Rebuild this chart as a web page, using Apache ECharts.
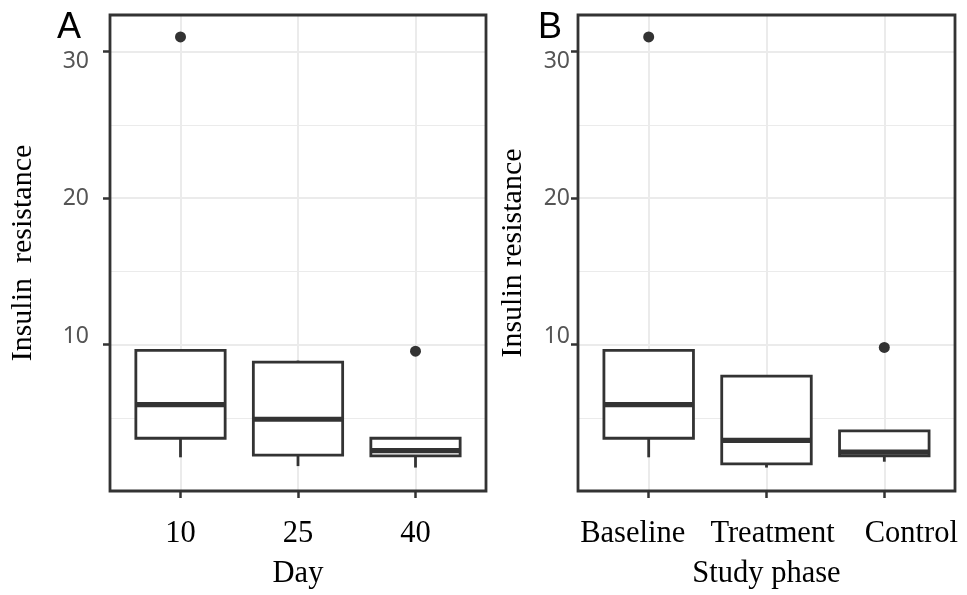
<!DOCTYPE html>
<html>
<head>
<meta charset="utf-8">
<script src="https://cdn.jsdelivr.net/npm/echarts@6/dist/echarts.min.js"></script>
<style>
  html, body { margin: 0; padding: 0; background: #fff; }
  #chart { width: 967px; height: 595px; }
</style>
</head>
<body>
<div id="chart"></div>
<script>
// categories of the two panels
const dayCats = ['10', '25', '40'];
const phaseCats = ['Baseline', 'Treatment', 'Control'];
// box stats: [lower whisker, Q1, median, Q3, upper whisker]
const dayBoxes = [
  [2.3, 3.6, 5.9, 9.6, 9.6],
  [1.7, 2.45, 4.9, 8.8, 8.9],
  [1.6, 2.4, 2.75, 3.6, 3.6]
];
const phaseBoxes = [
  [2.3, 3.6, 5.9, 9.6, 9.6],
  [1.6, 1.85, 3.45, 7.85, 7.9],
  [2.0, 2.4, 2.65, 4.1, 4.1]
];
// outliers: [category position, value]
const dayOutliers = [[1, 31.0], [3, 9.55]];
const phaseOutliers = [[1, 31.0], [3, 9.8]];
const yTicks = [10, 20, 30];
const catTicks = [1, 2, 3];

const INK = '#333333';
const GRIDC = '#ebebeb';
const SERIF = 'Liberation Serif';
const BOX_W = 0.76;

// ggplot style box: no whisker caps, thick median
function renderBox(params, api) {
  const x = api.value(0);
  const lo = api.coord([x, api.value(1)]);
  const q1 = api.coord([x, api.value(2)]);
  const md = api.coord([x, api.value(3)]);
  const q3 = api.coord([x, api.value(4)]);
  const hi = api.coord([x, api.value(5)]);
  const half = api.size([BOX_W, 0])[0] / 2;
  const cx = q1[0];
  return {
    type: 'group',
    children: [
      { type: 'line', shape: { x1: cx, y1: lo[1], x2: cx, y2: q1[1] }, style: { stroke: INK, lineWidth: 2.8 } },
      { type: 'line', shape: { x1: cx, y1: q3[1], x2: cx, y2: hi[1] }, style: { stroke: INK, lineWidth: 2.8 } },
      { type: 'rect', shape: { x: cx - half, y: q3[1], width: half * 2, height: q1[1] - q3[1] },
        style: { fill: '#fff', stroke: INK, lineWidth: 2.8 } },
      { type: 'line', shape: { x1: cx - half, y1: md[1], x2: cx + half, y2: md[1] }, style: { stroke: INK, lineWidth: 5.2 } }
    ]
  };
}

// tick labels sit a bit off their ticks in the reference
const yShift = { 30: 10, 20: 0, 10: -8.5 };
function yRich() {
  const r = {};
  yTicks.forEach(t => {
    const s = yShift[t];
    r['t' + t] = { padding: s >= 0 ? [2 * s, 0, 0, 0] : [0, 0, -2 * s, 0] };
  });
  return r;
}

function xAxisFor(gi, cats, name, shifts) {
  const rich = {};
  cats.forEach((c, i) => {
    const s = shifts[i];
    rich['c' + i] = { padding: s >= 0 ? [0, 0, 0, 2 * s] : [0, -2 * s, 0, 0] };
  });
  return {
    type: 'value', gridIndex: gi, min: 0.4, max: 3.6, position: 'bottom',
    axisLine: { show: false },
    axisTick: { show: true, customValues: catTicks, length: 7, lineStyle: { color: INK, width: 2.5 } },
    axisLabel: {
      customValues: catTicks, margin: 27,
      color: '#000', fontFamily: SERIF, fontSize: 30.5,
      formatter: v => '{c' + (v - 1) + '|' + cats[v - 1] + '}',
      rich: rich
    },
    splitLine: { show: true, lineStyle: { color: GRIDC, width: 2 } },
    name: name, nameLocation: 'middle', nameGap: 67,
    nameTextStyle: { color: '#000', fontFamily: SERIF, fontSize: 30.5 }
  };
}

function yAxesFor(gi, name, labelMargin, nameGap) {
  return [
    {
      // minor grid lines
      type: 'value', gridIndex: gi, min: 0, max: 32.5, interval: 5, position: 'left',
      axisLine: { show: false }, axisTick: { show: false }, axisLabel: { show: false },
      splitLine: { show: true, lineStyle: { color: GRIDC, width: 1.2 } }
    },
    {
      type: 'value', gridIndex: gi, min: 0, max: 32.5, interval: 10, position: 'left',
      axisLine: { show: false },
      axisTick: { show: true, customValues: yTicks, length: 7, lineStyle: { color: INK, width: 2.5 } },
      axisLabel: {
        customValues: yTicks, margin: labelMargin,
        color: '#555', fontFamily: 'Noto Sans', fontSize: 23,
        formatter: v => '{t' + v + '|' + v + '}',
        rich: yRich()
      },
      splitLine: { show: true, lineStyle: { color: GRIDC, width: 2 } },
      name: name, nameLocation: 'middle', nameGap: nameGap, nameRotate: 90,
      nameTextStyle: { color: '#000', fontFamily: SERIF, fontSize: 30 }
    }
  ];
}

const chart = echarts.init(document.getElementById('chart'), null, { renderer: 'canvas' });

const option = {
  animation: false,
  backgroundColor: '#fff',
  title: [
    { text: 'A', left: 52, top: 5, textStyle: { fontFamily: 'Liberation Sans', fontSize: 36, fontWeight: 'normal', color: '#000' } },
    { text: 'B', left: 533, top: 5, textStyle: { fontFamily: 'Liberation Sans', fontSize: 36, fontWeight: 'normal', color: '#000' } }
  ],
  grid: [
    { left: 110, top: 15, width: 376, height: 476, containLabel: false, outerBoundsMode: 'none',
      show: true, borderColor: INK, borderWidth: 2.8, backgroundColor: 'transparent', z: 10 },
    { left: 578, top: 15, width: 377, height: 476, containLabel: false, outerBoundsMode: 'none',
      show: true, borderColor: INK, borderWidth: 2.8, backgroundColor: 'transparent', z: 10 }
  ],
  xAxis: [
    xAxisFor(0, dayCats, 'Day', [0, 0, 0]),
    xAxisFor(1, phaseCats, 'Study phase', [-16, 6, 27])
  ],
  yAxis: [].concat(
    yAxesFor(0, 'Insulin  resistance', 21, 72),
    yAxesFor(1, 'Insulin resistance', 8, 50)
  ),
  series: [
    {
      type: 'custom', xAxisIndex: 0, yAxisIndex: 1,
      data: dayBoxes.map((b, i) => [i + 1].concat(b)),
      encode: { x: 0, y: [1, 2, 3, 4, 5] },
      renderItem: renderBox
    },
    {
      type: 'scatter', xAxisIndex: 0, yAxisIndex: 1,
      data: dayOutliers, symbolSize: 11, itemStyle: { color: INK, opacity: 1 }
    },
    {
      type: 'custom', xAxisIndex: 1, yAxisIndex: 3,
      data: phaseBoxes.map((b, i) => [i + 1].concat(b)),
      encode: { x: 0, y: [1, 2, 3, 4, 5] },
      renderItem: renderBox
    },
    {
      type: 'scatter', xAxisIndex: 1, yAxisIndex: 3,
      data: phaseOutliers, symbolSize: 11, itemStyle: { color: INK, opacity: 1 }
    }
  ]
};

chart.setOption(option);
window.addEventListener('resize', () => chart.resize());
</script>
</body>
</html>
